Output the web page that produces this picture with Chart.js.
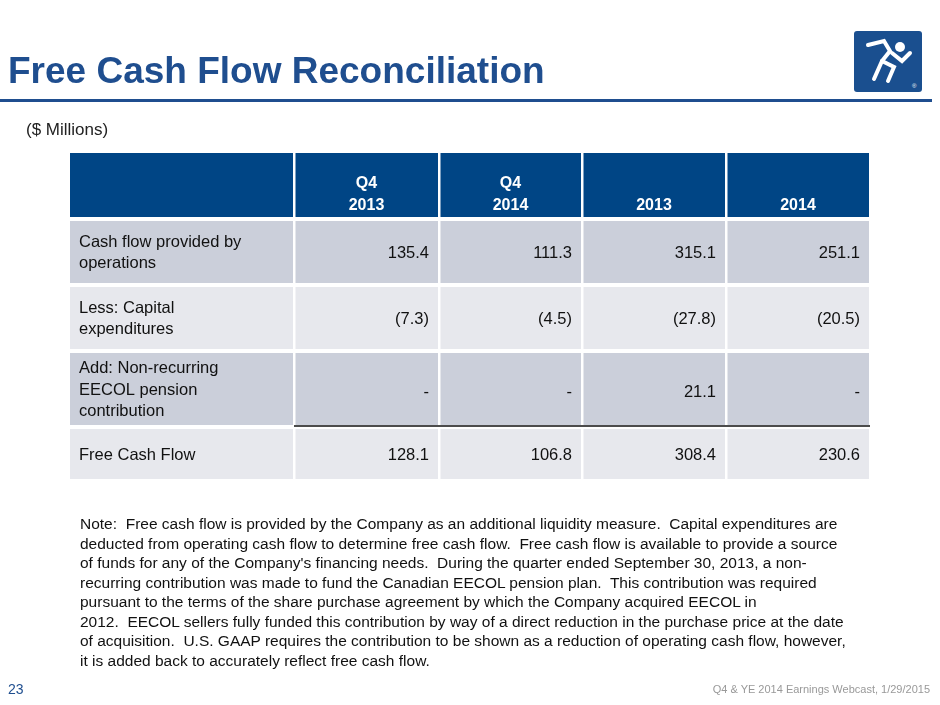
<!DOCTYPE html>
<html><head><meta charset="utf-8">
<script src="https://cdn.jsdelivr.net/npm/chart.js@4"></script>
<style>
body{margin:0;width:940px;height:705px;position:relative;font-family:"Liberation Sans",Arial,sans-serif;background:#fff;overflow:hidden}
#title{position:absolute;left:8px;top:50px;font-size:37px;font-weight:bold;color:#1f4e8f}
#rule{position:absolute;left:0;top:99px;width:932px;height:3px;background:#1f4e8f}
#logo{position:absolute;left:854px;top:31px;width:68px;height:61px;background:#1a4f8f;border-radius:3px}
#units{position:absolute;left:26px;top:120px;font-size:17px;color:#222}
#note{position:absolute;left:80px;top:514px;width:768px;font-size:15.5px;line-height:19.5px;color:#111}
#pg{position:absolute;left:8px;top:681px;font-size:14px;color:#1f4e8f}
#foot{position:absolute;right:10px;top:683px;font-size:11px;color:#999}
canvas{position:absolute;left:0;top:0}
</style></head><body>
<canvas id="tbl" width="940" height="705"></canvas>
<div id="title">Free Cash Flow Reconciliation</div>
<div id="rule"></div>
<div id="logo"><svg width="68" height="61" viewBox="0 0 68 61"><g stroke="#fff" stroke-width="4" fill="none" stroke-linecap="round"><path d="M14 14 L30 10 L36 20 L28 30 L20 48"/><path d="M28 30 L40 36 L34 50"/><path d="M38 22 L48 30 L56 22"/></g><circle cx="46" cy="16" r="5" fill="#fff"/><text x="58" y="57" fill="#fff" font-size="6">®</text></svg></div>
<div id="units">($ Millions)</div>
<div id="note">Note:&nbsp; Free cash flow is provided by the Company as an additional liquidity measure.&nbsp; Capital expenditures are deducted from operating cash flow to determine free cash flow.&nbsp; Free cash flow is available to provide a source<br>of funds for any of the Company's financing needs.&nbsp; During the quarter ended September 30, 2013, a non-<br>recurring contribution was made to fund the Canadian EECOL pension plan.&nbsp; This contribution was required pursuant to the terms of the share purchase agreement by which the Company acquired EECOL in<br>2012.&nbsp; EECOL sellers fully funded this contribution by way of a direct reduction in the purchase price at the date of acquisition.&nbsp; U.S. GAAP requires the contribution to be shown as a reduction of operating cash flow, however, it is added back to accurately reflect free cash flow.</div>
<div id="pg">23</div>
<div id="foot">Q4 &amp; YE 2014 Earnings Webcast, 1/29/2015</div>
<script>
// table content
const columns = [['', ''], ['Q4', '2013'], ['Q4', '2014'], ['', '2013'], ['', '2014']];
const rowLabels = [['Cash flow provided by', 'operations'], ['Less: Capital', 'expenditures'], ['Add: Non-recurring', 'EECOL pension', 'contribution'], ['Free Cash Flow']];
const q42013 = ['135.4', '(7.3)', '-', '128.1'];
const q42014 = ['111.3', '(4.5)', '-', '106.8'];
const fy2013 = ['315.1', '(27.8)', '21.1', '308.4'];
const fy2014 = ['251.1', '(20.5)', '-', '230.6'];

// layout: cell edges in table units (x: px from table left, y: px from table top)
const colEdges = [0, 224, 369, 512, 656, 800];
const rowEdges = [0, 66, 132, 198, 274, 328];
const values = [q42013, q42014, fy2013, fy2014];

const tablePlugin = {
  id: 'table',
  beforeDatasetsDraw(chart) {
    const ctx = chart.ctx, xs = chart.scales.x, ys = chart.scales.y;
    const X = v => xs.getPixelForValue(v), Y = v => ys.getPixelForValue(v);
    ctx.save();
    for (let r = 0; r < rowEdges.length - 1; r++) {
      for (let c = 0; c < colEdges.length - 1; c++) {
        let fill;
        if (r === 0) fill = '#004585';
        else fill = (r % 2 === 1) ? '#cbcfda' : '#e7e8ed';
        const x0 = X(colEdges[c]) + (c ? 1.5 : 0), x1 = X(colEdges[c + 1]) - 1;
        const y0 = Y(rowEdges[r]) + (r ? 2 : 0), y1 = Y(rowEdges[r + 1]) - 2;
        ctx.fillStyle = fill;
        ctx.fillRect(x0, y0, x1 - x0, y1 - y0);
      }
    }
    // rule above totals
    ctx.strokeStyle = '#111'; ctx.lineWidth = 1.5;
    ctx.beginPath(); ctx.moveTo(X(colEdges[1]), Y(rowEdges[4]) - 1); ctx.lineTo(X(colEdges[5]), Y(rowEdges[4]) - 1); ctx.stroke();
    // header
    ctx.fillStyle = '#fff'; ctx.font = 'bold 16px "Liberation Sans", Arial'; ctx.textAlign = 'center'; ctx.textBaseline = 'middle';
    for (let c = 1; c < columns.length; c++) {
      const cx = (X(colEdges[c]) + X(colEdges[c + 1])) / 2;
      if (columns[c][0]) ctx.fillText(columns[c][0], cx, Y(rowEdges[0]) + 31);
      ctx.fillText(columns[c][1], cx, Y(rowEdges[0]) + 53);
    }
    // rows
    ctx.font = '16.5px "Liberation Sans", Arial'; ctx.fillStyle = '#111';
    for (let r = 0; r < rowLabels.length; r++) {
      const top = Y(rowEdges[r + 1]), bot = Y(rowEdges[r + 2]);
      const mid = (top + bot) / 2 + 1;
      ctx.textAlign = 'left';
      const lines = rowLabels[r];
      lines.forEach((t, i) => ctx.fillText(t, X(colEdges[0]) + 9, mid + (i - (lines.length - 1) / 2) * 21.5));
      ctx.textAlign = 'right';
      for (let c = 0; c < values.length; c++) ctx.fillText(values[c][r], X(colEdges[c + 2]) - 10, mid + (r === 2 ? 2 : 0));
    }
    ctx.restore();
  }
};

new Chart(document.getElementById('tbl'), {
  type: 'scatter',
  data: { datasets: [{ data: [] }] },
  options: {
    responsive: false, animation: false,
    layout: { padding: { left: 70, right: 70, top: 153, bottom: 224 } },
    plugins: { legend: { display: false }, tooltip: { enabled: false } },
    scales: {
      x: { type: 'linear', min: 0, max: 800, display: false, offset: false },
      y: { type: 'linear', min: 0, max: 328, reverse: true, display: false }
    }
  },
  plugins: [tablePlugin]
});
</script>
</body></html>
